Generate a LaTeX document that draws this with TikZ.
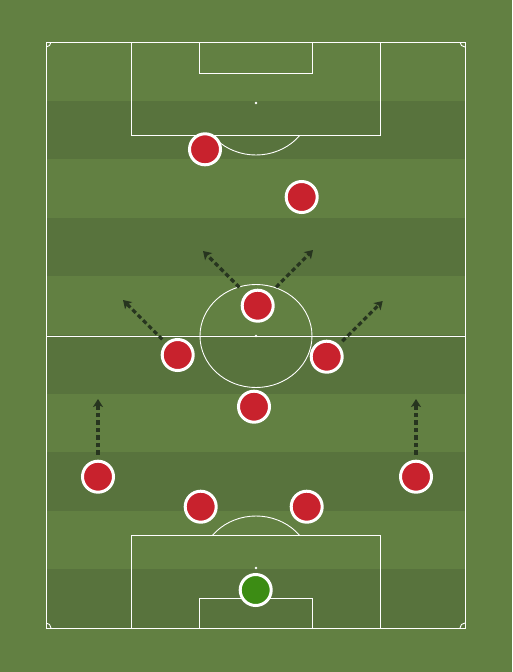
\documentclass[tikz,border=0pt]{standalone}
\usetikzlibrary{arrows.meta,shadows}
\definecolor{grassL}{HTML}{628042}
\definecolor{grassD}{HTML}{58733D}
\definecolor{shirt}{HTML}{C8222D}
\definecolor{keeper}{HTML}{3C8C14}
\definecolor{runc}{HTML}{27351F}
\begin{document}
\begin{tikzpicture}[x=1pt,y=-1pt,
  pline/.style={draw=white, line width=0.9pt},
  spot/.style={fill=white},
  player/.style={circle, minimum size=31pt, inner sep=0pt, draw=white, line width=3pt, fill=shirt,
    drop shadow={opacity=0.3, shadow xshift=0.6pt, shadow yshift=-1pt}},
  gk/.style={player, fill=keeper},
  run/.style={draw=runc, line width=3.2pt, dash pattern=on 4.5pt off 3pt, shorten <=5pt,
    -{Stealth[length=8pt,width=10pt,inset=2pt]}}]
% background
\fill[grassL] (0,0) rectangle (512,672);
\useasboundingbox (0,0) rectangle (512,672);
\foreach \i in {1,3,5,7,9}
  \fill[grassD] (46,{42+58.6*\i}) rectangle (465,{42+58.6*(\i+1)});
% pitch lines
\draw[pline] (46,42) rectangle (465,628);
\draw[pline] (46,336) -- (465,336);
\draw[pline] (256,336) ellipse [x radius=56pt, y radius=51.5pt];
\fill[spot] (256,336) circle [radius=1.3pt];
% top box
\draw[pline] (131,42) rectangle (380,135);
\draw[pline] (199.5,42) rectangle (312.5,73);
\fill[spot] (256,103) circle [radius=1.3pt];
\begin{scope}
  \clip (46,135.5) rectangle (465,336);
  \draw[pline] (256,103) ellipse [x radius=56pt, y radius=52pt];
\end{scope}
% bottom box
\draw[pline] (131,535.7) rectangle (380,628);
\draw[pline] (199.5,598.3) rectangle (312.5,628);
\fill[spot] (256,568) circle [radius=1.3pt];
\begin{scope}
  \clip (46,336) rectangle (465,535.2);
  \draw[pline] (256,568) ellipse [x radius=56pt, y radius=52pt];
\end{scope}
% corner arcs
\begin{scope}
  \clip (46,42) rectangle (465,628);
  \foreach \p in {(46,42),(465,42),(46,628),(465,628)}
    \draw[pline] \p circle [radius=5pt];
\end{scope}
% players
\node[player] (p1) at (205,149.3) {};
\node[player] (p2) at (301.7,197) {};
\node[player] (am) at (257.7,305.7) {};
\node[player] (lm) at (177.7,355) {};
\node[player] (rm) at (326.7,356.7) {};
\node[player] (dm) at (254,406.7) {};
\node[player] (lb) at (98,476.7) {};
\node[player] (rb) at (416,476.7) {};
\node[player] (lcb) at (200.7,506.7) {};
\node[player] (rcb) at (306.7,506.7) {};
\node[gk] (gk) at (255.7,590) {};
% run targets
\coordinate (tAL) at (203,251);
\coordinate (tAR) at (313,250);
\coordinate (tL) at (123,300);
\coordinate (tR) at (382.7,301);
\coordinate (tLB) at (98,399);
\coordinate (tRB) at (416,399);
% runs
\draw[run, shorten <=9pt] (am) -- (tAL);
\draw[run, shorten <=9pt] (am) -- (tAR);
\draw[run] (lm) -- (tL);
\draw[run] (rm) -- (tR);
\draw[run] (lb) -- (tLB);
\draw[run] (rb) -- (tRB);
\end{tikzpicture}
\end{document}
